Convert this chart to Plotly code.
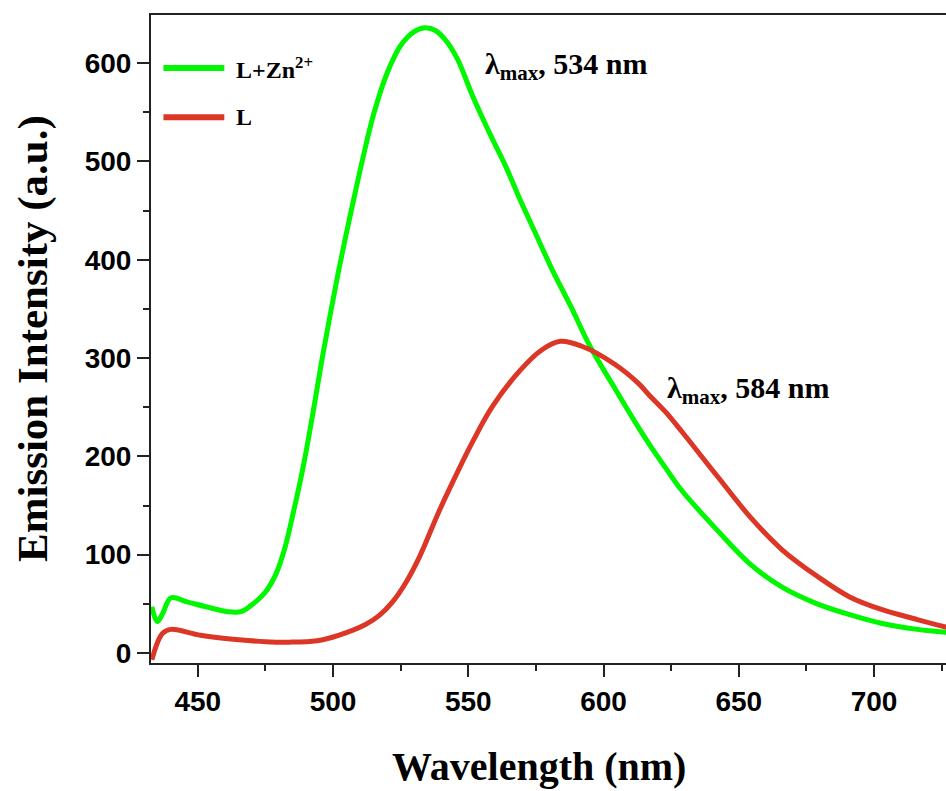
import plotly.graph_objects as go

# ---- data ----
wl_zn = [433, 435, 437, 440, 446, 453, 461, 466, 470, 475, 479, 482, 485, 489, 493, 496,
         499, 502, 505, 508, 511, 515, 520, 525, 530, 534, 538, 542, 546, 552, 558, 564, 569,
         575, 581, 588, 595, 604, 613, 617, 623, 629, 642, 654, 666, 679, 691, 703, 716, 727]
int_zn = [47, 32, 40, 56, 52, 47, 42, 42, 49, 62, 81, 105, 139, 190, 251, 300,
          345, 388, 428, 466, 503, 548, 590, 618, 632, 636, 633, 622, 604, 564, 528, 494, 462,
          426, 390, 352, 312, 270, 229, 212, 188, 165, 125, 91, 67, 50, 39, 30, 24, 21]

wl_l = [433, 435, 437, 440, 451, 463, 475, 484, 494, 502, 512, 517, 522, 527, 532, 539,
        546, 552, 559, 569, 577, 584, 592, 604, 613, 617, 623, 629, 642, 654, 666, 679,
        691, 703, 716, 727]
int_l = [-7, 10, 20, 24, 18, 14, 11.5, 11, 12.5, 18, 29, 38, 52, 72, 98, 143,
         184, 217, 251, 287, 308, 317, 312, 294, 274, 262, 245, 225, 180, 139, 105, 78,
         57, 44, 34, 26]

series_names = ["L+Zn<sup>2+</sup>", "L"]
series_colors = ["#00f700", "#dc3626"]
peak_labels = ["λ<sub>max</sub>, 534 nm", "λ<sub>max</sub>, 584 nm"]
x_title = "Wavelength (nm)"
y_title = "Emission Intensity (a.u.)"
x_tickvals = [450, 500, 550, 600, 650, 700]
y_tickvals = [0, 100, 200, 300, 400, 500, 600]

X_RANGE = [432.7, 726.6]
Y_RANGE = [-10.2, 649]

fig = go.Figure()
for wl, it, name, col in [(wl_zn, int_zn, series_names[0], series_colors[0]),
                          (wl_l, int_l, series_names[1], series_colors[1])]:
    fig.add_trace(go.Scatter(x=wl, y=it, mode="lines", name=name,
                             line=dict(color=col, width=5, shape="spline", smoothing=1.0),
                             showlegend=False))

serif = "Liberation Serif, Times New Roman, serif"
sans = "Liberation Sans, Arial, sans-serif"

# legend (manual, to match the long key lines)
leg_y = [595, 545]
for yv, col, name in zip(leg_y, series_colors, series_names):
    fig.add_shape(type="line", xref="x", yref="y", x0=437.3, x1=459.8, y0=yv, y1=yv,
                  line=dict(color=col, width=6))
    fig.add_annotation(x=463.5, y=yv, xref="x", yref="y", text=name, showarrow=False,
                       xanchor="left", yanchor="middle",
                       font=dict(family=serif, size=24, color="black", weight="bold"))

# peak annotations
fig.add_annotation(x=555.4, y=597, xref="x", yref="y", text=peak_labels[0], showarrow=False,
                   xanchor="left", yanchor="middle",
                   font=dict(family=serif, size=30, color="black", weight="bold"))
fig.add_annotation(x=622.7, y=267.5, xref="x", yref="y", text=peak_labels[1], showarrow=False,
                   xanchor="left", yanchor="middle",
                   font=dict(family=serif, size=30, color="black", weight="bold"))

# axis titles
fig.add_annotation(x=0.488, y=-0.159, xref="paper", yref="paper", text=x_title, showarrow=False,
                   xanchor="center", yanchor="middle",
                   font=dict(family=serif, size=40, color="black", weight="bold"))
fig.add_annotation(x=-0.1484, y=0.5, xref="paper", yref="paper", text=y_title, showarrow=False,
                   xanchor="center", yanchor="middle", textangle=-90,
                   font=dict(family=serif, size=43, color="black", weight="bold"))

tickfont = dict(family=sans, size=28, color="black", weight="bold")
fig.update_layout(
    width=946, height=791,
    margin=dict(l=151, r=0, t=15, b=128),
    paper_bgcolor="white", plot_bgcolor="white",
    xaxis=dict(range=X_RANGE, tickvals=x_tickvals, showgrid=False, zeroline=False,
               showline=True, linecolor="#222", linewidth=2, mirror=True,
               ticks="outside", ticklen=12, tickwidth=2, tickcolor="#222",
               minor=dict(dtick=25, tick0=425, ticks="outside", ticklen=6, tickwidth=2, tickcolor="#222"),
               tickfont=tickfont),
    yaxis=dict(range=Y_RANGE, tickvals=y_tickvals, showgrid=False, zeroline=False,
               showline=True, linecolor="#222", linewidth=2,
               ticks="outside", ticklen=12, tickwidth=2, tickcolor="#222",
               minor=dict(dtick=50, tick0=0, ticks="outside", ticklen=6, tickwidth=2, tickcolor="#222"),
               tickfont=tickfont),
)

fig.write_html("out.html")
